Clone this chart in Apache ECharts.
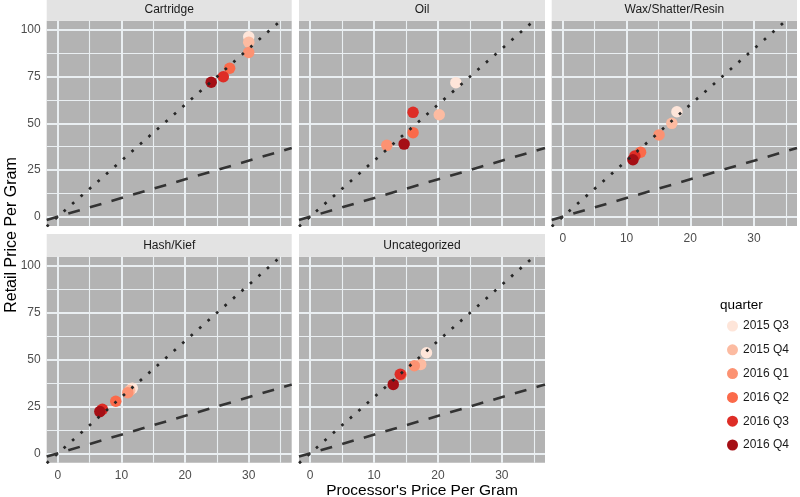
<!DOCTYPE html>
<html><head><meta charset="utf-8">
<script src="https://cdn.jsdelivr.net/npm/echarts@6/dist/echarts.min.js"></script>
<style>html,body{margin:0;padding:0;background:#fff}#c{width:800px;height:497px}</style>
</head><body><div id="c"></div>
<script>
// ---- data ----
const panelNames = ['Cartridge', 'Oil', 'Wax/Shatter/Resin', 'Hash/Kief', 'Uncategorized'];
const quarters = ['2015 Q3', '2015 Q4', '2016 Q1', '2016 Q2', '2016 Q3', '2016 Q4'];
const quarterColors = ['#FEE5D9', '#FCBBA1', '#FC9272', '#FB6A4A', '#DE2D26', '#A50F15'];

const cartridgeX = [30.0, 30.0, 30.0, 27.0, 26.0, 24.1];
const cartridgeY = [96.4, 93.5, 88.0, 79.5, 75.0, 72.0];
const oilX = [22.8, 20.2, 12.0, 16.1, 16.1, 14.7];
const oilY = [71.8, 54.6, 38.2, 45.0, 55.9, 38.9];
const waxX = [17.9, 17.1, 15.1, 12.2, 11.3, 11.0];
const waxY = [56.2, 50.0, 43.8, 34.5, 32.5, 30.5];
const hashX = [11.7, 11.3, 11.0, 9.1, 7.0, 6.6];
const hashY = [34.7, 33.5, 32.4, 27.8, 23.5, 22.3];
const uncatX = [18.2, 17.3, 16.3, 14.2, 14.1, 13.0];
const uncatY = [53.7, 47.5, 46.8, 42.0, 42.2, 36.8];

const xTicks = [0, 10, 20, 30];
const xMinorTicks = [5, 15, 25, 35];
const yTicks = [0, 25, 50, 75, 100];
const yMinorTicks = [12.5, 37.5, 62.5, 87.5];
const refSlopes = [3, 1];          // dotted: retail = 3 x processor, dashed: retail = processor
const xLimits = [-1.75, 36.75];
const yLimits = [-5, 105];

// ---- layout ----
const FONT = 'Liberation Sans';
const panelXs = [cartridgeX, oilX, waxX, hashX, uncatX];
const panelYs = [cartridgeY, oilY, waxY, hashY, uncatY];
const layout = [
  {left: 46.7, top: 20.7, width: 245, height: 205.3, showX: false, showY: true},
  {left: 299, top: 20.7, width: 246, height: 205.3, showX: false, showY: false},
  {left: 551.7, top: 20.7, width: 245.3, height: 205.3, showX: true, showY: false},
  {left: 46.7, top: 256.7, width: 245, height: 206, showX: true, showY: true},
  {left: 299, top: 256.7, width: 246, height: 206, showX: true, showY: false}
];
const STRIP_H = 22.7;

const grids = [], xAxes = [], yAxes = [], series = [], graphics = [];
layout.forEach((L, i) => {
  grids.push({left: L.left, top: L.top, width: L.width, height: L.height, show: true,
    backgroundColor: '#b3b3b3', borderWidth: 0, containLabel: false});
  xAxes.push({gridIndex: i, type: 'value', min: xLimits[0], max: xLimits[1],
    axisLine: {show: false}, splitLine: {show: false},
    axisTick: {show: L.showX, customValues: xTicks, length: 3, lineStyle: {color: '#333', width: 1}},
    axisLabel: {show: L.showX, customValues: xTicks, margin: 7, color: '#4d4d4d', fontSize: 12, fontFamily: FONT}});
  yAxes.push({gridIndex: i, type: 'value', min: yLimits[0], max: yLimits[1],
    axisLine: {show: false}, splitLine: {show: false},
    axisTick: {show: L.showY, customValues: yTicks, length: 3, lineStyle: {color: '#333', width: 1}},
    axisLabel: {show: L.showY, customValues: yTicks, margin: 6, color: '#4d4d4d', fontSize: 12, fontFamily: FONT}});

  const gridLines = [];
  xMinorTicks.forEach(v => gridLines.push({xAxis: v, lineStyle: {width: 1.1}}));
  yMinorTicks.forEach(v => gridLines.push({yAxis: v, lineStyle: {width: 1.1}}));
  xTicks.forEach(v => gridLines.push({xAxis: v, lineStyle: {width: 2}}));
  yTicks.forEach(v => gridLines.push({yAxis: v, lineStyle: {width: 2}}));

  refSlopes.forEach((s, k) => {
    const dotted = k === 0;
    const ser = {
      type: 'line', xAxisIndex: i, yAxisIndex: i, z: 3, silent: true, animation: false,
      symbol: 'none', clip: true,
      data: xLimits.map(x => [x, s * x]),
      lineStyle: dotted
        ? {color: '#262626', width: 2.7, type: [2.7, 8.6], cap: 'butt'}
        : {color: '#333333', width: 2.6, type: [12, 10.5], cap: 'butt'}
    };
    if (k === 1) {
      ser.markLine = {z: 1, silent: true, animation: false, symbol: 'none',
        label: {show: false}, lineStyle: {color: '#eaeff2', type: 'solid'}, data: gridLines};
    }
    series.push(ser);
  });

  quarters.forEach((q, j) => {
    series.push({type: 'scatter', name: q, xAxisIndex: i, yAxisIndex: i, z: 2,
      symbolSize: 11.5, animation: false,
      itemStyle: {color: quarterColors[j], opacity: 1},
      data: [[panelXs[i][j], panelYs[i][j]]]});
  });

  graphics.push({type: 'rect', silent: true, z: 0,
    shape: {x: L.left, y: L.top - STRIP_H, width: L.width, height: STRIP_H},
    style: {fill: '#e3e3e3'}});
  graphics.push({type: 'text', silent: true, z: 1,
    x: L.left + L.width / 2, y: L.top - STRIP_H / 2,
    style: {text: panelNames[i], fill: '#1a1a1a', font: '12px "' + FONT + '"',
      textAlign: 'center', textVerticalAlign: 'middle'}});
});

graphics.push({type: 'text', silent: true, x: 422, y: 491,
  style: {text: "Processor's Price Per Gram", fill: '#000', font: '15.5px "' + FONT + '"',
    textAlign: 'center', textVerticalAlign: 'middle'}});
graphics.push({type: 'text', silent: true, x: 12, y: 235, rotation: Math.PI / 2,
  style: {text: 'Retail Price Per Gram', fill: '#000', font: '16px "' + FONT + '"',
    textAlign: 'center', textVerticalAlign: 'middle'}});
graphics.push({type: 'text', silent: true, x: 720, y: 305,
  style: {text: 'quarter', fill: '#000', font: '13.5px "' + FONT + '"',
    textAlign: 'left', textVerticalAlign: 'middle'}});

const chart = echarts.init(document.getElementById('c'), null, {renderer: 'canvas'});
chart.setOption({
  animation: false,
  grid: grids, xAxis: xAxes, yAxis: yAxes, series: series, graphic: graphics,
  legend: {data: quarters, orient: 'vertical', left: 722, top: 315, itemWidth: 11, itemHeight: 11,
    itemGap: 11.8, icon: 'circle', selectedMode: false,
    textStyle: {fontSize: 12, color: '#1a1a1a', fontFamily: FONT}}
});
</script></body></html>
